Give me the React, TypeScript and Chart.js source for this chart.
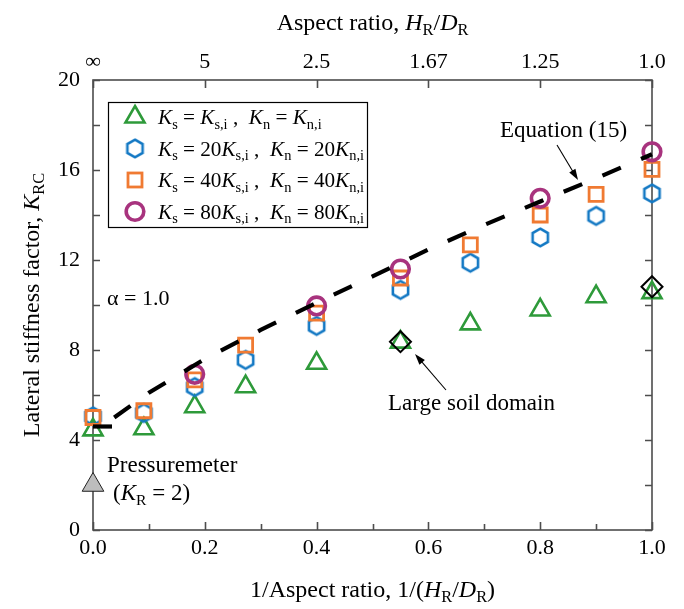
import React, { useEffect, useRef } from 'react';
import { Chart, registerables } from 'chart.js';

Chart.register(...registerables);

// ---------- data ----------
const xValues = [0, 0.091, 0.182, 0.273, 0.4, 0.55, 0.675, 0.8, 0.9, 1.0];
const kBase = [4.45, 4.5, 5.48, 6.37, 7.41, 8.35, 9.16, 9.78, 10.37, 10.55];
const k20 = [5.05, 5.2, 6.35, 7.56, 9.07, 10.67, 11.88, 13.0, 13.96, 14.96];
const k40 = [5.0, 5.3, 6.67, 8.22, 9.64, 11.2, 12.67, 14.0, 14.92, 16.03];
const x80 = [0.182, 0.4, 0.55, 0.8, 1.0];
const k80 = [6.92, 9.96, 11.6, 14.74, 16.81];
const xLarge = [0.55, 1.0];
const kLarge = [8.37, 10.81];
const xPress = [0];
const kPress = [2];
const xEq = [0.038, 0.1, 0.2, 0.3, 0.4, 0.5, 0.6, 0.7, 0.8, 0.9, 1.0];
const kEq = [5.0, 6.1, 7.6, 8.89, 10.1, 11.27, 12.47, 13.56, 14.6, 15.63, 16.7];
const xEqStart = [0, 0.034];
const kEqStart = [4.6, 4.6];
const bottomTicks = [0, 0.2, 0.4, 0.6, 0.8, 1.0];
const topTickLabels = ['∞', '5', '2.5', '1.67', '1.25', '1.0'];
const yTicks = [0, 4, 8, 12, 16, 20];

// ---------- styles ----------
const FONT = '"Liberation Serif", "Times New Roman", serif';
const GREEN = '#2E9A3A';
const BLUE = '#1479C4';
const ORANGE = '#F07A32';
const PURPLE = '#A8337E';
const AXIS = '#4d4d4d';

const zip = (xs: number[], ys: number[]) => xs.map((x, i) => ({ x, y: ys[i] }));

function makeHexagon(color: string, R: number, lw: number) {
  const size = Math.ceil(2 * R + lw + 4);
  const c = document.createElement('canvas');
  c.width = size;
  c.height = size;
  const g = c.getContext('2d')!;
  const cx = size / 2;
  const cy = size / 2;
  g.beginPath();
  for (let k = 0; k < 6; k++) {
    const a = -Math.PI / 2 + (k * Math.PI) / 3;
    const px = cx + R * Math.cos(a);
    const py = cy + R * Math.sin(a);
    if (k === 0) g.moveTo(px, py);
    else g.lineTo(px, py);
  }
  g.closePath();
  g.strokeStyle = color;
  g.lineWidth = lw;
  g.lineJoin = 'miter';
  g.stroke();
  return c;
}

type Seg = { t: string; i?: boolean; sub?: boolean };

function segFont(s: Seg, size: number) {
  const sz = s.sub ? size * 0.68 : size;
  return `${s.i ? 'italic ' : ''}${sz}px ${FONT}`;
}
function measureRich(ctx: CanvasRenderingContext2D, segs: Seg[], size: number) {
  let w = 0;
  for (const s of segs) {
    ctx.font = segFont(s, size);
    w += ctx.measureText(s.t).width;
  }
  return w;
}
function drawRich(
  ctx: CanvasRenderingContext2D,
  segs: Seg[],
  x: number,
  y: number,
  size: number,
  align: 'left' | 'center' = 'left'
) {
  const w = measureRich(ctx, segs, size);
  let cx = align === 'center' ? x - w / 2 : x;
  ctx.textAlign = 'left';
  ctx.textBaseline = 'alphabetic';
  ctx.fillStyle = '#000';
  for (const s of segs) {
    ctx.font = segFont(s, size);
    ctx.fillText(s.t, cx, s.sub ? y + size * 0.22 : y);
    cx += ctx.measureText(s.t).width;
  }
}

function arrow(ctx: CanvasRenderingContext2D, x1: number, y1: number, x2: number, y2: number) {
  const ang = Math.atan2(y2 - y1, x2 - x1);
  const hl = 11;
  const hw = 3.6;
  ctx.save();
  ctx.strokeStyle = '#000';
  ctx.fillStyle = '#000';
  ctx.lineWidth = 1.1;
  ctx.beginPath();
  ctx.moveTo(x1, y1);
  ctx.lineTo(x2 - Math.cos(ang) * hl * 0.8, y2 - Math.sin(ang) * hl * 0.8);
  ctx.stroke();
  ctx.beginPath();
  ctx.moveTo(x2, y2);
  ctx.lineTo(
    x2 - Math.cos(ang) * hl - Math.sin(ang) * hw,
    y2 - Math.sin(ang) * hl + Math.cos(ang) * hw
  );
  ctx.lineTo(
    x2 - Math.cos(ang) * hl + Math.sin(ang) * hw,
    y2 - Math.sin(ang) * hl - Math.cos(ang) * hw
  );
  ctx.closePath();
  ctx.fill();
  ctx.restore();
}

function legendRow(mult: string): Seg[] {
  return [
    { t: 'K', i: true },
    { t: 's', sub: true },
    { t: ' = ' + mult },
    { t: 'K', i: true },
    { t: 's,i', sub: true },
    { t: ' ,  ' },
    { t: 'K', i: true },
    { t: 'n', sub: true },
    { t: ' = ' + mult },
    { t: 'K', i: true },
    { t: 'n,i', sub: true },
  ];
}

const framePlugin = {
  id: 'frame',
  beforeDatasetsDraw(chart: any) {
    const { ctx, chartArea: a, scales } = chart;
    const xs = scales.x;
    const ys = scales.y;
    ctx.save();
    ctx.strokeStyle = AXIS;
    ctx.lineWidth = 1.6;
    ctx.strokeRect(a.left, a.top, a.right - a.left, a.bottom - a.top);
    ctx.beginPath();
    for (let k = 0; k <= 10; k++) {
      const v = k / 10;
      const px = Math.round(xs.getPixelForValue(v)) + 0.5;
      const len = k % 2 === 0 ? 8 : 6;
      ctx.moveTo(px, a.bottom);
      ctx.lineTo(px, a.bottom - len);
      if (k % 2 === 0) {
        ctx.moveTo(px, a.top);
        ctx.lineTo(px, a.top + 8);
      }
    }
    for (let v = 0; v <= 20; v += 2) {
      const py = Math.round(ys.getPixelForValue(v)) + 0.5;
      ctx.moveTo(a.left, py);
      ctx.lineTo(a.left + 7, py);
      ctx.moveTo(a.right, py);
      ctx.lineTo(a.right - 7, py);
    }
    ctx.stroke();
    ctx.restore();
  },
  afterDraw(chart: any) {
    const { ctx, chartArea: a } = chart;
    ctx.save();
    // axis titles
    drawRich(
      ctx,
      [{ t: 'Aspect ratio, ' }, { t: 'H', i: true }, { t: 'R', sub: true }, { t: '/' }, { t: 'D', i: true }, { t: 'R', sub: true }],
      (a.left + a.right) / 2,
      30,
      24,
      'center'
    );
    drawRich(
      ctx,
      [
        { t: '1/Aspect ratio, 1/(' },
        { t: 'H', i: true },
        { t: 'R', sub: true },
        { t: '/' },
        { t: 'D', i: true },
        { t: 'R', sub: true },
        { t: ')' },
      ],
      (a.left + a.right) / 2,
      597,
      24,
      'center'
    );
    ctx.save();
    ctx.translate(39, (a.top + a.bottom) / 2);
    ctx.rotate(-Math.PI / 2);
    drawRich(ctx, [{ t: 'Lateral stiffness factor, ' }, { t: 'K', i: true }, { t: 'RC', sub: true }], 0, 0, 24, 'center');
    ctx.restore();

    // legend box
    ctx.strokeStyle = '#000';
    ctx.lineWidth = 1.2;
    ctx.strokeRect(108.5, 102.5, 259, 125);
    const mx = 135;
    const rows = [117, 148.5, 180, 211.5];
    // triangle
    ctx.lineWidth = 2.6;
    ctx.strokeStyle = GREEN;
    ctx.beginPath();
    const r = 11;
    ctx.moveTo(mx, rows[0] - r);
    ctx.lineTo(mx + r * Math.sin((2 * Math.PI) / 3), rows[0] + r / 2);
    ctx.lineTo(mx - r * Math.sin((2 * Math.PI) / 3), rows[0] + r / 2);
    ctx.closePath();
    ctx.stroke();
    // hexagon
    const hex = makeHexagon(BLUE, 8.8, 2.6);
    ctx.drawImage(hex, mx - hex.width / 2, rows[1] - hex.height / 2);
    // square
    ctx.strokeStyle = ORANGE;
    ctx.lineWidth = 2.8;
    ctx.strokeRect(mx - 7, rows[2] - 7, 14, 14);
    // circle
    ctx.strokeStyle = PURPLE;
    ctx.lineWidth = 3.6;
    ctx.beginPath();
    ctx.arc(mx, rows[3], 8.8, 0, Math.PI * 2);
    ctx.stroke();
    const mults = ['', '20', '40', '80'];
    mults.forEach((m, i) => drawRich(ctx, legendRow(m), 158, rows[i] + 7, 21.2));

    // annotations
    drawRich(ctx, [{ t: 'α = 1.0' }], 107, 305, 22);
    drawRich(ctx, [{ t: 'Equation (15)' }], 500, 137, 23);
    arrow(ctx, 557, 145, 578, 180);
    drawRich(ctx, [{ t: 'Large soil domain' }], 388, 410, 23);
    arrow(ctx, 446, 390, 415, 354);
    drawRich(ctx, [{ t: 'Pressuremeter' }], 107, 472, 23);
    drawRich(ctx, [{ t: '(' }, { t: 'K', i: true }, { t: 'R', sub: true }, { t: ' = 2)' }], 113, 500, 23);
    ctx.restore();
  },
};

export default function App() {
  const ref = useRef<HTMLCanvasElement | null>(null);

  useEffect(() => {
    if (!ref.current) return;
    const hex = makeHexagon(BLUE, 8.8, 2.6);
    const tickFont = { family: FONT, size: 22 };
    const chart = new Chart(ref.current, {
      type: 'scatter',
      data: {
        datasets: [
          {
            label: 'Large soil domain',
            data: zip(xLarge, kLarge),
            pointStyle: 'rectRot',
            pointRadius: 10.5,
            borderColor: '#000',
            backgroundColor: 'rgba(0,0,0,0)',
            borderWidth: 2,
            order: 0,
            clip: false,
          },
          {
            label: 'Equation (15)',
            data: zip(xEq, kEq),
            showLine: true,
            pointRadius: 0,
            borderColor: '#000',
            borderWidth: 4.2,
            borderDash: [20, 22],
            borderCapStyle: 'butt',
            tension: 0,
            order: 1,
            clip: false,
          },
          {
            label: 'Equation (15) start',
            data: zip(xEqStart, kEqStart),
            showLine: true,
            pointRadius: 0,
            borderColor: '#000',
            borderWidth: 4.2,
            borderCapStyle: 'butt',
            order: 1,
            clip: false,
          },
          {
            label: 'Ks = 80Ks,i',
            data: zip(x80, k80),
            pointStyle: 'circle',
            pointRadius: 8.8,
            borderColor: PURPLE,
            backgroundColor: 'rgba(0,0,0,0)',
            borderWidth: 3.6,
            order: 2,
            clip: false,
          },
          {
            label: 'Ks = 40Ks,i',
            data: zip(xValues, k40),
            pointStyle: 'rect',
            pointRadius: 9.9,
            borderColor: ORANGE,
            backgroundColor: 'rgba(0,0,0,0)',
            borderWidth: 2.8,
            order: 3,
            clip: false,
          },
          {
            label: 'Ks = 20Ks,i',
            data: zip(xValues, k20),
            pointStyle: hex as any,
            pointRadius: 10,
            borderColor: BLUE,
            backgroundColor: 'rgba(0,0,0,0)',
            order: 4,
            clip: false,
          },
          {
            label: 'Ks = Ks,i',
            data: zip(xValues, kBase),
            pointStyle: 'triangle',
            pointRadius: 11,
            borderColor: GREEN,
            backgroundColor: 'rgba(0,0,0,0)',
            borderWidth: 2.6,
            order: 5,
            clip: false,
          },
          {
            label: 'Pressuremeter',
            data: zip(xPress, kPress),
            pointStyle: 'triangle',
            pointRadius: 12.5,
            borderColor: '#222',
            backgroundColor: '#BDBDBD',
            borderWidth: 1,
            order: 6,
            clip: false,
          },
        ],
      },
      options: {
        responsive: false,
        animation: false,
        events: [],
        layout: { padding: { left: 0, right: 32, top: 0, bottom: 0 } },
        plugins: { legend: { display: false }, tooltip: { enabled: false } },
        scales: {
          x: {
            type: 'linear',
            position: 'bottom',
            min: 0,
            max: 1,
            grid: { display: false, drawTicks: false },
            border: { display: false },
            afterBuildTicks: (s: any) => {
              s.ticks = bottomTicks.map((v) => ({ value: v }));
            },
            ticks: {
              font: tickFont,
              color: '#000',
              padding: 5,
              maxRotation: 0,
              autoSkip: false,
              callback: (v: any) => Number(v).toFixed(1),
            },
            afterFit: (s: any) => {
              s.height = 79;
            },
          },
          x2: {
            type: 'linear',
            position: 'top',
            min: 0,
            max: 1,
            grid: { display: false, drawTicks: false },
            border: { display: false },
            afterBuildTicks: (s: any) => {
              s.ticks = bottomTicks.map((v) => ({ value: v }));
            },
            ticks: {
              font: tickFont,
              color: '#000',
              padding: 5,
              maxRotation: 0,
              autoSkip: false,
              callback: (_v: any, i: number) => topTickLabels[i],
            },
            afterFit: (s: any) => {
              s.height = 80;
            },
          },
          y: {
            type: 'linear',
            position: 'left',
            min: 0,
            max: 20,
            grid: { display: false, drawTicks: false },
            border: { display: false },
            afterBuildTicks: (s: any) => {
              s.ticks = yTicks.map((v) => ({ value: v }));
            },
            ticks: {
              font: tickFont,
              color: '#000',
              padding: 13,
              callback: (v: any) => String(v),
            },
            afterFit: (s: any) => {
              s.width = 93;
            },
          },
        },
      },
      plugins: [framePlugin],
    });
    return () => chart.destroy();
  }, []);

  return (
    <div style={{ position: 'absolute', left: 0, top: 0, width: 684, height: 609, background: '#fff' }}>
      <canvas ref={ref} width={684} height={609} style={{ display: 'block' }} />
    </div>
  );
}
